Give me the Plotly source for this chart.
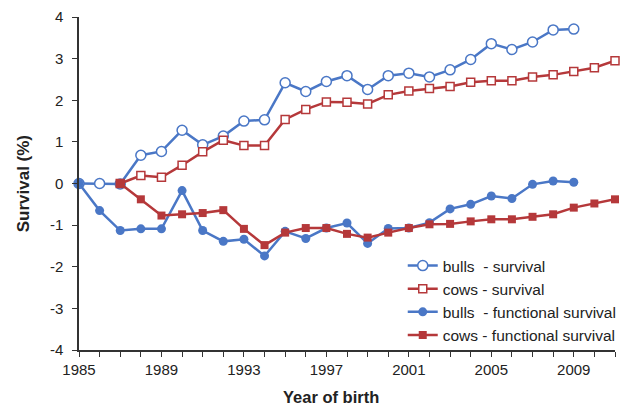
import plotly.graph_objects as go

years = list(range(1985, 2012))

bulls_surv_years = list(range(1985, 2010))
bulls_surv = [0, 0, -0.01, 0.68, 0.77, 1.28, 0.93, 1.14, 1.50, 1.53, 2.42, 2.21, 2.45,
              2.59, 2.26, 2.59, 2.65, 2.56, 2.73, 2.98, 3.36, 3.22, 3.40, 3.69, 3.71]

cows_surv_years = list(range(1987, 2012))
cows_surv = [0, 0.19, 0.15, 0.44, 0.76, 1.04, 0.91, 0.91, 1.54, 1.78, 1.96, 1.95, 1.91,
             2.13, 2.22, 2.28, 2.33, 2.43, 2.47, 2.47, 2.56, 2.61, 2.69, 2.78, 2.95]

bulls_func_years = list(range(1985, 2010))
bulls_func = [0, -0.65, -1.13, -1.09, -1.09, -0.17, -1.13, -1.39, -1.34, -1.74, -1.15, -1.32,
              -1.07, -0.95, -1.44, -1.08, -1.07, -0.94, -0.61, -0.50, -0.30, -0.36, -0.02, 0.06, 0.03]

cows_func_years = list(range(1987, 2012))
cows_func = [0, -0.38, -0.77, -0.74, -0.71, -0.64, -1.09, -1.48, -1.18, -1.07, -1.07, -1.21,
             -1.30, -1.18, -1.07, -0.98, -0.97, -0.91, -0.86, -0.86, -0.80, -0.74, -0.58, -0.48, -0.38]

x_ticktext = [str(y) if (y - 1985) % 4 == 0 else "" for y in years]
y_tickvals = [-4, -3, -2, -1, 0, 1, 2, 3, 4]
y_ticktext = ["-4", "-3", "-2", "-1", "0", "1", "2", "3", "4"]

blue = "#4A77C6"
red = "#B5383A"

fig = go.Figure()
fig.add_trace(go.Scatter(
    x=bulls_surv_years, y=bulls_surv, name="bulls  - survival", mode="lines+markers",
    line=dict(color=blue, width=2.5),
    marker=dict(symbol="circle", size=10, color="white", line=dict(color=blue, width=1.5))))
fig.add_trace(go.Scatter(
    x=cows_surv_years, y=cows_surv, name="cows - survival", mode="lines+markers",
    line=dict(color=red, width=2.5),
    marker=dict(symbol="square", size=8, color="white", line=dict(color=red, width=1.5))))
fig.add_trace(go.Scatter(
    x=bulls_func_years, y=bulls_func, name="bulls  - functional survival", mode="lines+markers",
    line=dict(color=blue, width=2.5),
    marker=dict(symbol="circle", size=9, color=blue)))
fig.add_trace(go.Scatter(
    x=cows_func_years, y=cows_func, name="cows - functional survival", mode="lines+markers",
    line=dict(color=red, width=2.5),
    marker=dict(symbol="square", size=8, color=red)))

fig.update_traces(cliponaxis=False)

# the page body adds an 8px margin, so the figure is 8px smaller on each side
fig.update_layout(
    width=623, height=401,
    margin=dict(l=71, r=13, t=9, b=59),
    paper_bgcolor="white", plot_bgcolor="white",
    font=dict(family="Liberation Sans, Arial", size=15, color="#222"),
    showlegend=True,
    legend=dict(x=0.604, y=-0.006, xanchor="left", yanchor="bottom",
                bgcolor="rgba(0,0,0,0)", font=dict(size=15.5), itemwidth=30,
                tracegroupgap=0),
    xaxis=dict(range=[1985, 2011], tickvals=years, ticktext=x_ticktext,
               ticks="outside", ticklen=5, tickcolor="#333", showline=True,
               linecolor="#333", linewidth=1.5, showgrid=False, zeroline=False,
               tickfont=dict(size=15), automargin=False),
    yaxis=dict(range=[-4, 4], tickvals=y_tickvals, ticktext=y_ticktext,
               ticks="outside", ticklen=5, tickcolor="#333",
               showline=True, linecolor="#333", linewidth=1.5, showgrid=False,
               zeroline=False, tickfont=dict(size=15), ticklabelstandoff=6,
               automargin=False),
    annotations=[
        dict(text="<b>Year of birth</b>", xref="paper", yref="paper",
             x=0.47, y=-0.142, xanchor="center", yanchor="middle",
             showarrow=False, font=dict(size=16.5)),
        dict(text="<b>Survival (%)</b>", xref="paper", yref="paper",
             x=-0.103, y=0.5, xanchor="center", yanchor="middle",
             textangle=-90, showarrow=False, font=dict(size=17)),
    ],
)

fig.write_html("out.html")
